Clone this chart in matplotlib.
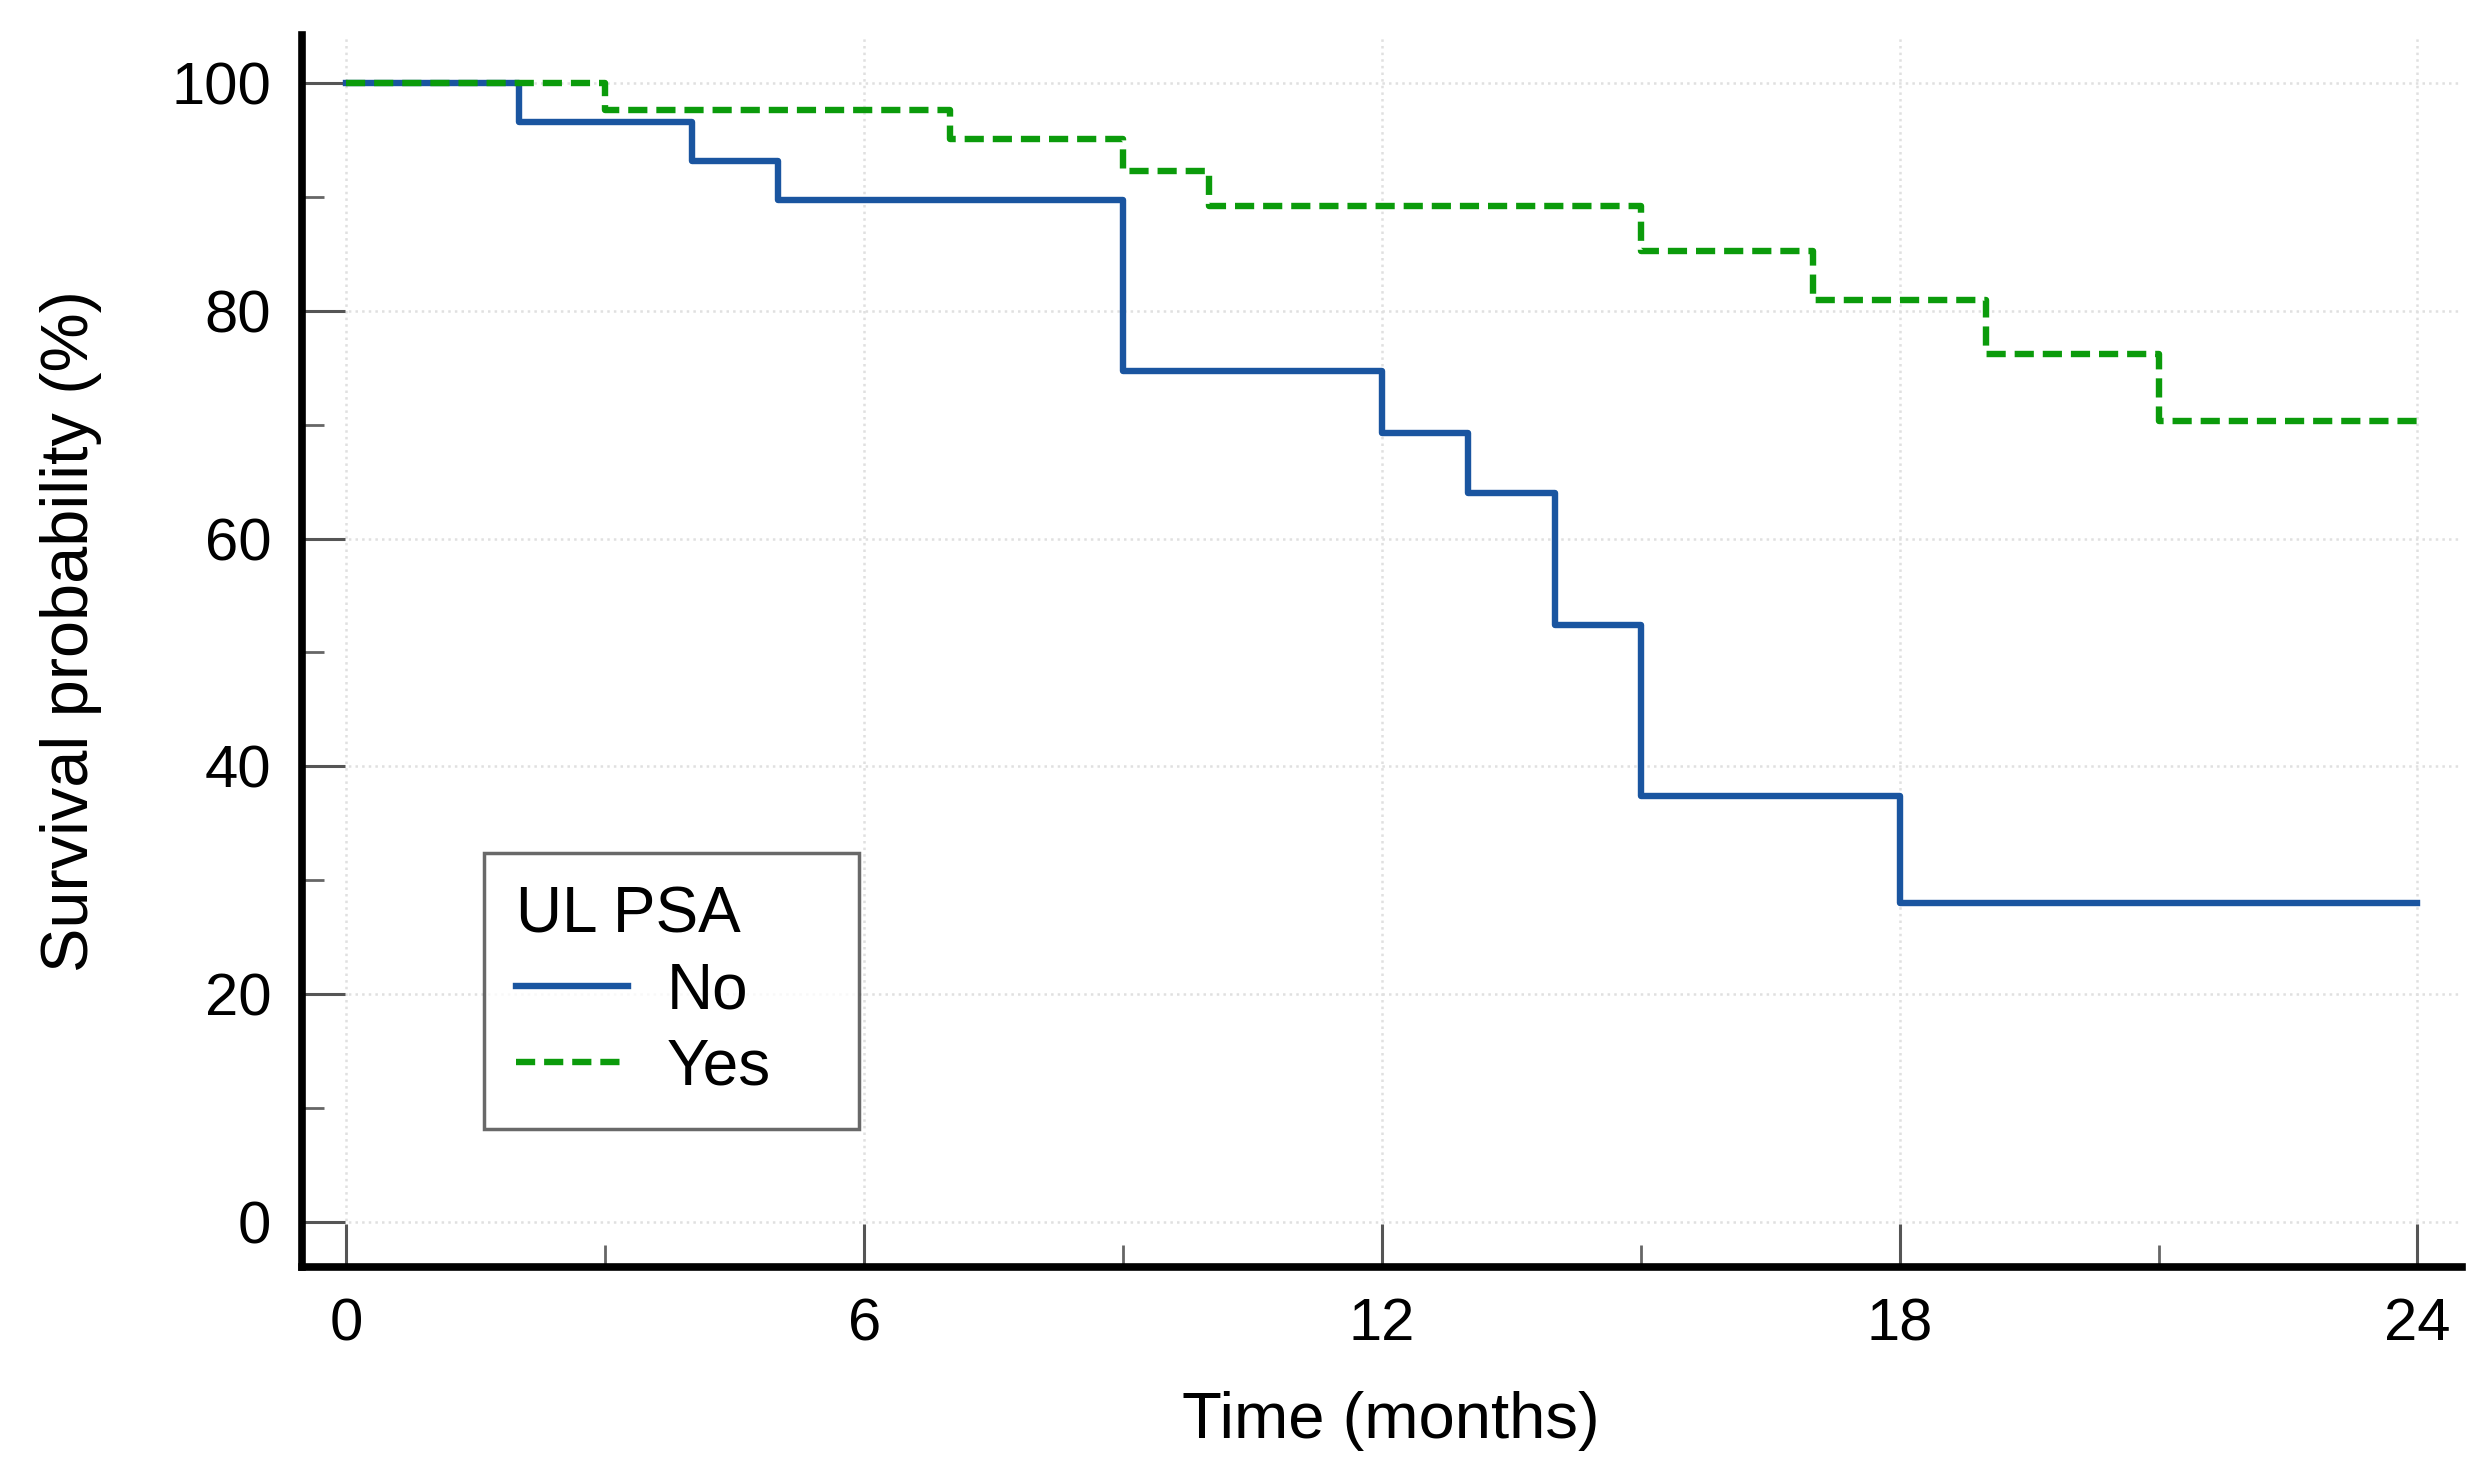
import matplotlib.pyplot as plt
from matplotlib.ticker import MultipleLocator

# Kaplan-Meier steps
no_time = [0, 2, 4, 5, 9, 12, 13, 14, 15, 18, 24]
no_surv = [100, 96.6, 93.1, 89.7, 74.7, 69.3, 64.0, 52.4, 37.4, 28.0, 28.0]

yes_time = [0, 3, 7, 9, 10, 15, 17, 19, 21, 24]
yes_surv = [100, 97.6, 95.1, 92.3, 89.2, 85.2, 80.9, 76.2, 70.3, 70.3]

x_ticks = [0, 6, 12, 18, 24]
y_ticks = [0, 20, 40, 60, 80, 100]

plt.rcParams['font.family'] = ['Liberation Sans', 'DejaVu Sans']

fig = plt.figure(figsize=(24.91, 14.70), dpi=100)
ax = fig.add_axes([0.1212, 0.1384, 0.8673, 0.8378])

ax.step(no_time, no_surv, where='post', color='#1a55a0', lw=4.6, label='No')
l2, = ax.step(yes_time, yes_surv, where='post', color='#0b9b0b', lw=4.6, label='Yes')
l2.set_dashes([3.0, 1.4])

ax.set_xlim(-0.515, 24.52)
ax.set_ylim(-3.9, 104.2)
ax.set_xticks(x_ticks)
ax.set_yticks(y_ticks)
ax.xaxis.set_minor_locator(MultipleLocator(3))
ax.yaxis.set_minor_locator(MultipleLocator(10))

ax.grid(True, which='major', color='#e0e0e0', ls=':', lw=1.8)
ax.set_axisbelow(True)

for s in ['top', 'right']:
    ax.spines[s].set_visible(False)
for s in ['left', 'bottom']:
    ax.spines[s].set_linewidth(5.5)
    ax.spines[s].set_color('black')

ax.tick_params(which='major', direction='in', length=31, width=2.2, color='#555555',
               labelsize=43, pad=22)
ax.tick_params(which='minor', direction='in', length=16, width=2.0, color='#666666')

ax.set_xlabel('Time (months)', fontsize=47, labelpad=28)
ax.xaxis.label.set_x(0.504)
ax.set_ylabel('Survival probability (%)', fontsize=48, labelpad=50)
ax.yaxis.label.set_y(0.516)

leg = ax.legend(title='UL PSA', loc='upper left',
                bbox_to_anchor=(0.1945, 0.3195, 0.1505, 0.1), bbox_transform=fig.transFigure,
                mode='expand', borderaxespad=0, fontsize=46, title_fontsize=46, frameon=True,
                fancybox=False, edgecolor='#444444', handlelength=1.75,
                handletextpad=0.6, labelspacing=0.25, borderpad=0.5, alignment='left')
leg.get_frame().set_linewidth(2.5)

fig.savefig('out.png', dpi=100)
